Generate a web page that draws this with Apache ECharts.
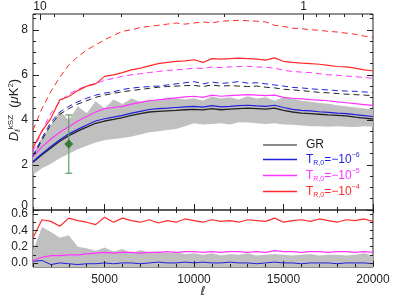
<!DOCTYPE html>
<html><head><meta charset="utf-8">
<script src="https://cdn.jsdelivr.net/npm/echarts@6/dist/echarts.min.js"></script>
<style>html,body{margin:0;padding:0;background:#fff}#c{width:415px;height:297px}</style>
</head><body><div id="c"></div>
<script>
const ell = [1000,1500,2000,2500,3000,3500,4000,4500,5000,5500,6000,6500,7000,7500,8000,8500,9000,9500,10000,10500,11000,11500,12000,12500,13000,13500,14000,14500,15000,15500,16000,16500,17000,17500,18000,18500,19000,19500,20000];
const grSolid = [2.12,2.45,2.75,3.05,3.3,3.5,3.68,3.85,3.95,4.02,4.1,4.2,4.28,4.35,4.38,4.4,4.42,4.45,4.47,4.44,4.5,4.45,4.48,4.5,4.52,4.5,4.48,4.52,4.42,4.35,4.3,4.28,4.25,4.22,4.2,4.18,4.12,4.08,4.04];
const blueSolid = [2.15,2.5,2.82,3.12,3.38,3.58,3.77,3.95,4.05,4.12,4.2,4.3,4.38,4.46,4.5,4.52,4.55,4.58,4.6,4.57,4.63,4.58,4.6,4.63,4.65,4.62,4.6,4.65,4.55,4.47,4.42,4.4,4.36,4.33,4.3,4.28,4.23,4.19,4.15];
const magSolid = [2.38,2.8,3.15,3.45,3.7,3.95,4.15,4.35,4.5,4.55,4.6,4.7,4.78,4.85,4.89,4.93,4.98,5.02,5.05,5.0,5.1,5.05,5.08,5.1,5.12,5.1,5.08,5.1,5.0,4.96,4.93,4.9,4.88,4.85,4.8,4.76,4.72,4.68,4.64];
const redSolid = [2.77,3.5,4.07,4.89,5.04,5.3,5.5,5.6,5.93,6.0,6.1,6.22,6.3,6.4,6.5,6.55,6.6,6.62,6.67,6.55,6.72,6.7,6.72,6.74,6.72,6.7,6.65,6.75,6.6,6.55,6.52,6.5,6.47,6.42,6.37,6.35,6.3,6.22,6.18];
const redDash = [3.55,4.5,5.26,5.9,6.44,6.8,7.1,7.33,7.55,7.75,7.93,8.0,8.1,8.15,8.2,8.25,8.3,8.25,8.3,8.35,8.3,8.38,8.4,8.42,8.4,8.38,8.35,8.2,8.15,8.07,8.05,8.0,7.98,7.93,7.9,7.85,7.8,7.72,7.66];
const magDash = [2.6,3.5,4.3,4.8,5.15,5.35,5.5,5.63,5.75,5.85,5.93,6.0,6.05,6.1,6.15,6.2,6.22,6.25,6.3,6.28,6.35,6.32,6.35,6.37,6.38,6.35,6.33,6.3,6.2,6.15,6.12,6.1,6.05,6.0,5.98,5.95,5.92,5.88,5.85];
const blueDash = [2.4,3.2,3.9,4.35,4.6,4.8,4.96,5.1,5.19,5.25,5.35,5.41,5.45,5.48,5.5,5.55,5.6,5.65,5.7,5.6,5.68,5.62,5.65,5.7,5.63,5.65,5.6,5.55,5.5,5.44,5.42,5.38,5.35,5.33,5.3,5.28,5.27,5.24,5.22];
const grDash = [2.35,3.1,3.8,4.25,4.5,4.7,4.85,5.0,5.1,5.18,5.25,5.3,5.35,5.4,5.45,5.48,5.5,5.52,5.53,5.48,5.55,5.5,5.52,5.5,5.48,5.5,5.45,5.42,5.36,5.33,5.3,5.26,5.22,5.2,5.17,5.14,5.12,5.1,5.08];
const bandLow = [1.56,1.85,2.05,2.3,2.5,2.7,2.85,3.0,3.1,3.15,3.2,3.26,3.35,3.45,3.5,3.55,3.6,3.72,3.85,3.8,3.82,3.85,3.8,3.9,3.88,3.85,3.82,3.85,3.8,3.78,3.75,3.72,3.72,3.7,3.72,3.7,3.68,3.72,3.7];
const bandHigh = [2.52,3.2,3.75,4.4,4.0,4.6,4.3,4.83,4.5,4.9,4.7,4.95,4.8,4.9,4.85,5.0,4.95,4.9,4.96,4.85,5.05,4.95,5.0,4.9,5.05,4.95,5.0,4.85,5.0,4.95,4.85,4.8,4.75,4.72,4.65,4.6,4.55,4.5,4.47];
const ratioRed = [0.31,0.53,0.51,0.45,0.55,0.52,0.5,0.47,0.56,0.5,0.55,0.52,0.5,0.53,0.49,0.52,0.5,0.54,0.52,0.5,0.53,0.51,0.52,0.5,0.53,0.52,0.51,0.55,0.5,0.52,0.53,0.51,0.54,0.52,0.5,0.53,0.52,0.54,0.51];
const ratioMag = [0.03,0.07,0.09,0.09,0.1,0.1,0.11,0.12,0.13,0.12,0.13,0.13,0.12,0.13,0.13,0.14,0.13,0.14,0.14,0.13,0.14,0.13,0.14,0.14,0.13,0.14,0.13,0.15,0.14,0.14,0.13,0.14,0.14,0.13,0.14,0.14,0.13,0.14,0.13];
const ratioBlue = [0.02,0.03,-0.02,0.0,-0.01,-0.02,-0.01,-0.01,0.0,-0.01,0.0,0.0,-0.01,0.0,0.01,0.0,0.0,0.01,0.0,0.01,0.0,0.0,0.01,0.0,0.0,-0.01,0.0,0.01,0.0,0.0,-0.01,0.0,0.0,0.0,-0.01,0.0,0.0,0.0,-0.01];
const ratioErr = [0.15,0.44,0.38,0.31,0.34,0.2,0.18,0.15,0.19,0.14,0.17,0.12,0.16,0.13,0.14,0.12,0.13,0.11,0.12,0.1,0.12,0.09,0.11,0.1,0.12,0.09,0.1,0.11,0.1,0.09,0.1,0.11,0.09,0.1,0.1,0.09,0.1,0.12,0.09];
const obsEll = [3000], obsVal = [2.93], obsLo = [1.63], obsHi = [4.22];
const xTickLabels = [5000,10000,15000,20000];
const topTicks = [2160,3800,5950,9120,11680,16830,17540,18400,19390];
const topMajor = [1390,16120];
const topLabelText = ['10','1'];
const yTicksMain = [0,2,4,6,8];
const yLabelsMain = [2,4,6,8];
const yTicksRatio = [0,0.2,0.4,0.6];
const yMinorRatio = [0,0.1,0.2,0.3,0.4,0.5,0.6];

const C = {red:'#ff2a2a', mag:'#ff33ff', blue:'#1f1fdd', gr:'#222222', band:'#c0c0c0'};
const FONT = 'Liberation Sans';
const pairs = a => ell.map((x,i)=>[x,a[i]]);

const chart = echarts.init(document.getElementById('c'), null, {renderer:'canvas'});
const axTxt = {color:'#222', fontFamily:FONT, fontSize:12, hideOverlap:false, showMinLabel:true, showMaxLabel:true};
const noLine = {show:false, onZero:false};
function xA(grid, pos, extra){ return Object.assign({type:'value', gridIndex:grid, position:pos, min:1000, max:20000, z:10,
  axisLine:noLine, splitLine:{show:false}, axisLabel:{show:false}, axisTick:{show:false}}, extra); }
function yA(grid, pos, min, max, extra){ return Object.assign({type:'value', gridIndex:grid, position:pos, min:min, max:max, z:10,
  axisLine:noLine, splitLine:{show:false}, axisLabel:{show:false}, axisTick:{show:false}}, extra); }
const tk = (len, vals) => Object.assign({show:true, inside:true, length:len, lineStyle:{color:'#222', width:1}}, vals?{customValues:vals}:{});

const solid = (name, data, color, xi, yi, w) => ({type:'line', name, data:pairs(data), xAxisIndex:xi, yAxisIndex:yi,
  symbol:'none', lineStyle:{color, width:w||1}, itemStyle:{color}, z:5, silent:true});
const dashed = (name, data, color) => ({type:'line', name, data:pairs(data), xAxisIndex:0, yAxisIndex:0,
  symbol:'none', lineStyle:{color, width:1, type:[6,4]}, itemStyle:{color}, z:4, silent:true});

function lab(key, exp){ return `{${key}|T}{${key}s|R,0}{${key}|=−10}{${key}p|${exp}}`; }
const rich = {};
[['g',C.gr],['b',C.blue],['m',C.mag],['r',C.red]].forEach(([k,c])=>{
  rich[k] = {color:c, fontSize:12, fontFamily:FONT, lineHeight:15};
  rich[k+'s'] = {color:c, fontSize:7, fontFamily:FONT, verticalAlign:'bottom', padding:[6,0,0,0]};
  rich[k+'p'] = {color:c, fontSize:7, fontFamily:FONT, verticalAlign:'top', padding:[0,0,7,0]};
});

chart.setOption({
  animation:false,
  backgroundColor:'#fff',
  grid:[
    {left:33, right:42, top:14, height:196, show:true, borderColor:'#222', borderWidth:1, backgroundColor:'transparent'},
    {left:33, right:42, top:210, height:57, show:true, borderColor:'#222', borderWidth:1, backgroundColor:'transparent'}
  ],
  xAxis:[
    xA(0,'bottom',{interval:1000, axisTick:tk(3)}),
    xA(1,'bottom',{interval:1000, axisTick:tk(3)}),
    xA(0,'bottom',{axisTick:tk(6, xTickLabels)}),
    xA(1,'bottom',{axisTick:tk(6, xTickLabels), axisLabel:Object.assign({show:true, margin:7, customValues:xTickLabels, formatter:v=>String(v), alignMaxLabel:'center'}, axTxt)}),
    xA(0,'top',{axisTick:tk(3, topTicks)}),
    xA(0,'top',{axisTick:tk(6, topMajor)}),
    xA(1,'top',{interval:1000, axisTick:tk(3)})
  ],
  yAxis:[
    yA(0,'left',0,8.7,{axisTick:tk(6, yTicksMain), axisLabel:Object.assign({show:true, margin:5, customValues:yLabelsMain, formatter:v=>String(v)}, axTxt)}),
    yA(0,'left',0,8.7,{interval:0.5, axisTick:tk(3)}),
    yA(0,'right',0,8.7,{interval:0.5, axisTick:tk(3)}),
    yA(0,'right',0,8.7,{axisTick:tk(6, yTicksMain)}),
    yA(1,'left',-0.05,0.65,{axisTick:tk(5, yTicksRatio), axisLabel:Object.assign({show:true, margin:5, customValues:yTicksRatio, formatter:v=>v.toFixed(1)}, axTxt)}),
    yA(1,'left',-0.05,0.65,{axisTick:tk(3, yMinorRatio)}),
    yA(1,'right',-0.05,0.65,{axisTick:tk(3, yMinorRatio)})
  ],
  legend:{
    orient:'vertical', left:258, top:134, itemWidth:34, itemHeight:1.6, itemGap:1, icon:'rect',
    selectedMode:false,
    data:[{name:'GR', itemStyle:{color:'#666'}},{name:'b'},{name:'m'},{name:'r'}],
    formatter:n=> n==='GR' ? '{g|GR}' : n==='b' ? lab('b','−6') : n==='m' ? lab('m','−5') : lab('r','−4'),
    textStyle:{rich, padding:[0,0,0,4]}
  },
  series:[
    {type:'custom', name:'band', xAxisIndex:0, yAxisIndex:0, z:1, silent:true, clip:true,
     data:ell.map((x,i)=>[x,bandLow[i],bandHigh[i]]),
     renderItem:(p,api)=>{
       if (p.dataIndex !== 0) return null;
       const top = ell.map((x,i)=>api.coord([x,bandHigh[i]]));
       const bot = ell.map((x,i)=>api.coord([x,bandLow[i]])).reverse();
       return {type:'polygon', shape:{points:top.concat(bot)}, style:{fill:C.band}};
     }},
    dashed('grD', grDash, C.gr),
    dashed('bD', blueDash, C.blue),
    dashed('mD', magDash, C.mag),
    dashed('rD', redDash, C.red),
    solid('GR', grSolid, C.gr, 0, 0, 1.3),
    solid('b', blueSolid, C.blue, 0, 0, 1.2),
    solid('m', magSolid, C.mag, 0, 0, 1.2),
    solid('r', redSolid, C.red, 0, 0, 1.2),
    {type:'line', name:'errRatio', data:pairs(ratioErr), xAxisIndex:1, yAxisIndex:4, symbol:'none', lineStyle:{opacity:0}, areaStyle:{color:C.band, opacity:1, origin:'start'}, z:1, silent:true},
    solid('bR', ratioBlue, C.blue, 1, 4, 1),
    solid('mR', ratioMag, C.mag, 1, 4, 1.2),
    solid('rR', ratioRed, C.red, 1, 4, 1.2),
    {type:'custom', name:'err', xAxisIndex:0, yAxisIndex:0, z:8, silent:true,
     data:obsEll.map((x,i)=>[x,obsLo[i],obsHi[i]]),
     renderItem:(p,api)=>{
       const lo = api.coord([api.value(0), api.value(1)]);
       const hi = api.coord([api.value(0), api.value(2)]);
       const st = {stroke:'#5e9e5e', lineWidth:1.2};
       return {type:'group', children:[
         {type:'line', shape:{x1:lo[0],y1:lo[1],x2:hi[0],y2:hi[1]}, style:st},
         {type:'line', shape:{x1:lo[0]-3.5,y1:lo[1],x2:lo[0]+3.5,y2:lo[1]}, style:st},
         {type:'line', shape:{x1:hi[0]-3.5,y1:hi[1],x2:hi[0]+3.5,y2:hi[1]}, style:st}
       ]};
     }},
    {type:'scatter', name:'obs', data:obsEll.map((x,i)=>[x,obsVal[i]]), xAxisIndex:0, yAxisIndex:0,
     symbol:'diamond', symbolSize:9, itemStyle:{color:'#1d6b1d'}, z:9, silent:true}
  ]
});

// Tick labels placed through the library's own axis scales
const gridTop = chart.convertToPixel({yAxisIndex:0}, 8.7);
const topTexts = topMajor.map((v,i)=>({type:'text', x:chart.convertToPixel({xAxisIndex:5}, v), y:gridTop-7,
  style:{text:topLabelText[i], fontFamily:FONT, fontSize:12, fill:'#222', align:'center', verticalAlign:'middle'}}));
const zeroY = chart.convertToPixel({yAxisIndex:0}, 0);
const leftX = chart.convertToPixel({xAxisIndex:0}, 1000);
chart.setOption({graphic:[
  ...topTexts,
  {type:'text', x:leftX-5, y:zeroY-4, style:{text:'0', fontFamily:FONT, fontSize:12, fill:'#222', align:'right', verticalAlign:'middle'}},
  {type:'text', x:14, y:110, rotation:Math.PI/2, style:{
    text:'{d|D}{sub|ℓ}{sup|kSZ}{n|  (}{mu|μ}{n|K}{s2|2}{n|)}',
    align:'center', verticalAlign:'middle',
    rich:{
      d:{fontFamily:FONT, fontStyle:'italic', fontSize:13, fill:'#222'},
      sub:{fontFamily:FONT, fontStyle:'italic', fontSize:8, fill:'#222', verticalAlign:'bottom', padding:[7,0,0,0]},
      sup:{fontFamily:FONT, fontSize:8, fill:'#222', verticalAlign:'top', padding:[0,0,7,0]},
      n:{fontFamily:FONT, fontSize:13, fill:'#222'},
      mu:{fontFamily:FONT, fontStyle:'italic', fontSize:13, fill:'#222'},
      s2:{fontFamily:FONT, fontSize:8, fill:'#222', verticalAlign:'top', padding:[0,0,7,0]}
    }}},
  {type:'text', x:203, y:292, style:{text:'ℓ', fontFamily:'DejaVu Sans', fontStyle:'italic', fontSize:12, fill:'#222', align:'center', verticalAlign:'middle'}}
]});
</script></body></html>
